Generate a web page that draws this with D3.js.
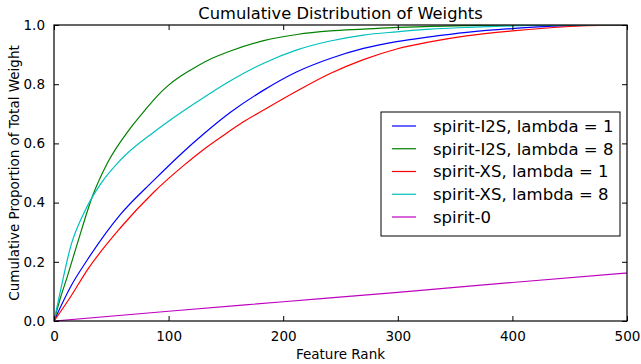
<!DOCTYPE html>
<html>
<head>
<meta charset="utf-8">
<script src="https://cdn.jsdelivr.net/npm/d3@7"></script>
<style>
  body { margin: 0; background: #fff; }
  text { font-family: "DejaVu Sans", sans-serif; fill: #000; }
</style>
</head>
<body>
<div id="chart"></div>
<script>
// values: [feature rank, cumulative proportion]
const i2sLambda1 = [[0,0],[14.5,0.116],[29,0.206],[58,0.36],[87,0.475],[113,0.572],[130,0.63],[154,0.705],[183,0.78],[212,0.842],[241,0.887],[270,0.921],[299,0.944],[328,0.96],[360,0.975],[400,0.988],[450,0.998],[500,1.0]];
const i2sLambda8 = [[0,0],[5,0.07],[11.6,0.15],[20.4,0.262],[33.4,0.42],[46.5,0.533],[65.4,0.645],[80,0.715],[90,0.76],[100,0.797],[110,0.826],[120,0.85],[135,0.882],[154,0.912],[183,0.947],[212,0.968],[241,0.98],[270,0.986],[300,0.992],[350,0.997],[400,1.0],[500,1.0]];
const xsLambda1 = [[0,0],[14.5,0.082],[29,0.172],[58,0.315],[87,0.435],[113,0.525],[130,0.578],[150,0.633],[165,0.672],[183,0.713],[212,0.777],[241,0.836],[270,0.883],[299,0.919],[328,0.943],[360,0.963],[400,0.98],[450,0.995],[500,1.0]];
const xsLambda8 = [[0,0],[5.8,0.105],[14.5,0.251],[26,0.364],[41,0.465],[58,0.544],[87,0.638],[100,0.675],[120,0.728],[154,0.812],[183,0.871],[212,0.916],[241,0.946],[270,0.966],[299,0.977],[328,0.986],[360,0.992],[400,0.997],[450,1.0],[500,1.0]];
const spirit0 = [[0,0],[100,0.033],[200,0.065],[300,0.097],[400,0.13],[500,0.162]];

const seriesNames = ["spirit-I2S, lambda = 1", "spirit-I2S, lambda = 8", "spirit-XS, lambda = 1", "spirit-XS, lambda = 8", "spirit-0"];
const seriesColors = ["#0000ff", "#008000", "#ff0000", "#00bfbf", "#bf00bf"];
const seriesData = [i2sLambda1, i2sLambda8, xsLambda1, xsLambda8, spirit0];

const xTicks = [0, 100, 200, 300, 400, 500];
const yTicks = [0, 0.2, 0.4, 0.6, 0.8, 1.0];

const W = 641, H = 364;
const margin = { top: 25, right: 14, bottom: 43, left: 54 },
    width = W - margin.left - margin.right,
    height = H - margin.top - margin.bottom;

const svg = d3.select("#chart").append("svg")
  .attr("width", W).attr("height", H);

const g = svg.append("g")
  .attr("transform", `translate(${margin.left},${margin.top})`);

const x = d3.scaleLinear().domain([0, 500]).range([0, width]);
const y = d3.scaleLinear().domain([0, 1]).range([height, 0]);

const line = d3.line()
  .x(d => x(d[0]))
  .y(d => y(d[1]))
  .curve(d3.curveMonotoneX);

g.append("defs").append("clipPath").attr("id", "clip")
  .append("rect").attr("width", width).attr("height", height);

const lines = g.append("g").attr("clip-path", "url(#clip)");
seriesData.forEach((s, i) => {
  lines.append("path")
    .datum(s)
    .attr("d", line)
    .attr("fill", "none")
    .attr("stroke", seriesColors[i])
    .attr("stroke-width", 1.2);
});

// axes, ticks pointing inward on all four sides
const tickStyle = sel => {
  sel.select(".domain").remove();
  sel.selectAll("line").attr("stroke", "#000");
  sel.selectAll("text").style("font-size", "13.5px").style("font-family", "DejaVu Sans");
};

g.append("g").attr("transform", `translate(0,${height})`)
  .call(d3.axisBottom(x).tickValues(xTicks).tickSizeInner(-5).tickPadding(10).tickFormat(d3.format("d")))
  .call(tickStyle);
g.append("g")
  .call(d3.axisTop(x).tickValues(xTicks).tickSizeInner(-5).tickFormat(""))
  .call(tickStyle);
g.append("g")
  .call(d3.axisLeft(y).tickValues(yTicks).tickSizeInner(-5).tickPadding(9).tickFormat(d3.format(".1f")))
  .call(tickStyle);
g.append("g").attr("transform", `translate(${width},0)`)
  .call(d3.axisRight(y).tickValues(yTicks).tickSizeInner(-5).tickFormat(""))
  .call(tickStyle);

g.append("rect")
  .attr("width", width).attr("height", height)
  .attr("fill", "none").attr("stroke", "#000").attr("stroke-width", 1.2);

svg.append("text")
  .attr("x", margin.left + width / 2).attr("y", 19)
  .attr("text-anchor", "middle")
  .style("font-size", "16.3px")
  .text("Cumulative Distribution of Weights");

svg.append("text")
  .attr("x", margin.left + width / 2).attr("y", 359)
  .attr("text-anchor", "middle")
  .style("font-size", "13.5px")
  .text("Feature Rank");

svg.append("text")
  .attr("transform", `translate(19,${margin.top + height / 2}) rotate(-90)`)
  .attr("text-anchor", "middle")
  .style("font-size", "13.5px")
  .text("Cumulative Proportion of Total Weight");

// legend
const legend = svg.append("g").attr("transform", "translate(381,112)");
legend.append("rect")
  .attr("width", 239).attr("height", 124)
  .attr("fill", "#fff").attr("stroke", "#000").attr("stroke-width", 1);
seriesNames.forEach((name, i) => {
  const cy = 14 + i * 22.75;
  legend.append("line")
    .attr("x1", 11).attr("x2", 35).attr("y1", cy).attr("y2", cy)
    .attr("stroke", seriesColors[i]).attr("stroke-width", 1.2);
  legend.append("text")
    .attr("x", 52).attr("y", cy)
    .attr("dy", "0.35em")
    .style("font-size", "16.5px")
    .text(name);
});
</script>
</body>
</html>
